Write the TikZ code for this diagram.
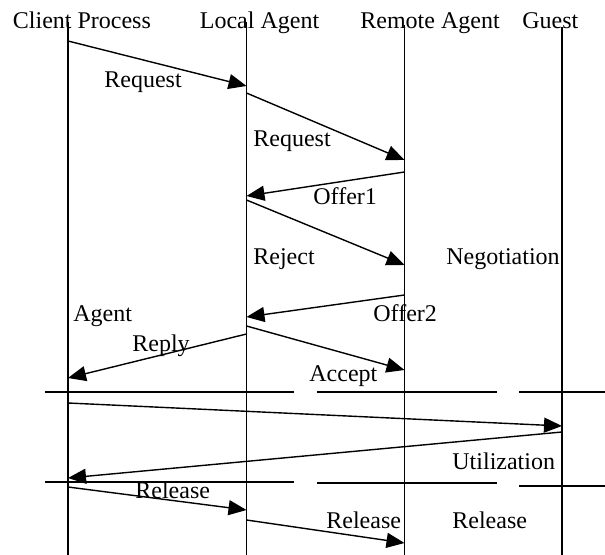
\documentclass[tikz,border=0pt]{standalone}
\usepackage{fontspec}
\setmainfont{Liberation Serif}
\usetikzlibrary{arrows.meta}
\begin{document}
\begin{tikzpicture}[x=0.5pt,y=-0.5pt,
  msg/.style={line width=0.7pt,-{Triangle[length=9pt,width=7.5pt]}},
  life/.style={line width=0.7pt},
  sep/.style={line width=0.7pt},
  lbl/.style={font=\fontsize{12}{14}\selectfont,inner sep=0pt,anchor=base west}]
\useasboundingbox (0,0) rectangle (605,555);
% headers
\node[lbl] (hC) at (12.5,28.5) {Client Process};
\node[lbl] (hL) at (199.5,28.5) {Local Agent};
\node[lbl] (hR) at (360,28.5) {Remote Agent};
\node[lbl] (hG) at (522,28.5) {Guest};
% lifelines
\coordinate (cT) at (68,22);   \coordinate (cB) at (68,555);
\coordinate (lT) at (246.5,22); \coordinate (lB) at (246.5,555);
\coordinate (rT) at (404.5,25); \coordinate (rB) at (404.5,555);
\coordinate (gT) at (562,27);  \coordinate (gB) at (562,555);
\draw[life] (cT) -- (cB);
\draw[life] (lT) -- (lB);
\draw[life] (rT) -- (rB);
\draw[life] (gT) -- (gB);
% separators
\coordinate (s1a) at (45,392);  \coordinate (s1b) at (294,392);
\coordinate (s1c) at (317,392); \coordinate (s1d) at (497,392);
\coordinate (s1e) at (519,392); \coordinate (s1f) at (605,392);
\coordinate (s2a) at (45,482);  \coordinate (s2b) at (294,482);
\coordinate (s2c) at (317,483); \coordinate (s2d) at (497,483);
\coordinate (s2e) at (519,486); \coordinate (s2f) at (605,486);
\draw[sep] (s1a) -- (s1b); \draw[sep] (s1c) -- (s1d); \draw[sep] (s1e) -- (s1f);
\draw[sep] (s2a) -- (s2b); \draw[sep] (s2c) -- (s2d); \draw[sep] (s2e) -- (s2f);
% message end points
\coordinate (m1a) at (68,41);    \coordinate (m1b) at (246.5,86);
\coordinate (m2a) at (246.5,93); \coordinate (m2b) at (404.5,160);
\coordinate (m3a) at (404.5,172);\coordinate (m3b) at (246.5,196);
\coordinate (m4a) at (246.5,200);\coordinate (m4b) at (404.5,265);
\coordinate (m5a) at (404.5,295);\coordinate (m5b) at (246.5,317);
\coordinate (m6a) at (246.5,326);\coordinate (m6b) at (404.5,370);
\coordinate (m7a) at (246.5,334);\coordinate (m7b) at (68,378);
\coordinate (m8a) at (68,403);   \coordinate (m8b) at (562,426);
\coordinate (m9a) at (562,432);  \coordinate (m9b) at (68,478);
\coordinate (m10a) at (68,487);  \coordinate (m10b) at (246.5,510);
\coordinate (m11a) at (246.5,520);\coordinate (m11b) at (404.5,543);
\draw[msg] (m1a) -- (m1b);
\draw[msg] (m2a) -- (m2b);
\draw[msg] (m3a) -- (m3b);
\draw[msg] (m4a) -- (m4b);
\draw[msg] (m5a) -- (m5b);
\draw[msg] (m6a) -- (m6b);
\draw[msg] (m7a) -- (m7b);
\draw[msg] (m8a) -- (m8b);
\draw[msg] (m9a) -- (m9b);
\draw[msg] (m10a) -- (m10b);
\draw[msg] (m11a) -- (m11b);
% labels
\node[lbl] (t1) at (104,88) {Request};
\node[lbl] (t2) at (253,147) {Request};
\node[lbl] (t3) at (313,205) {Offer1};
\node[lbl] (t4) at (253,265) {Reject};
\node[lbl] (t5) at (446,265) {Negotiation};
\node[lbl] (t6) at (73,322) {Agent};
\node[lbl] (t7) at (373,322) {Offer2};
\node[lbl] (t8) at (132,352) {Reply};
\node[lbl] (t9) at (309,382) {Accept};
\node[lbl] (t10) at (452,470) {Utilization};
\node[lbl] (t11) at (135,498) {Release};
\node[lbl] (t12) at (326,528) {Release};
\node[lbl] (t13) at (452,528) {Release};
\end{tikzpicture}
\end{document}
